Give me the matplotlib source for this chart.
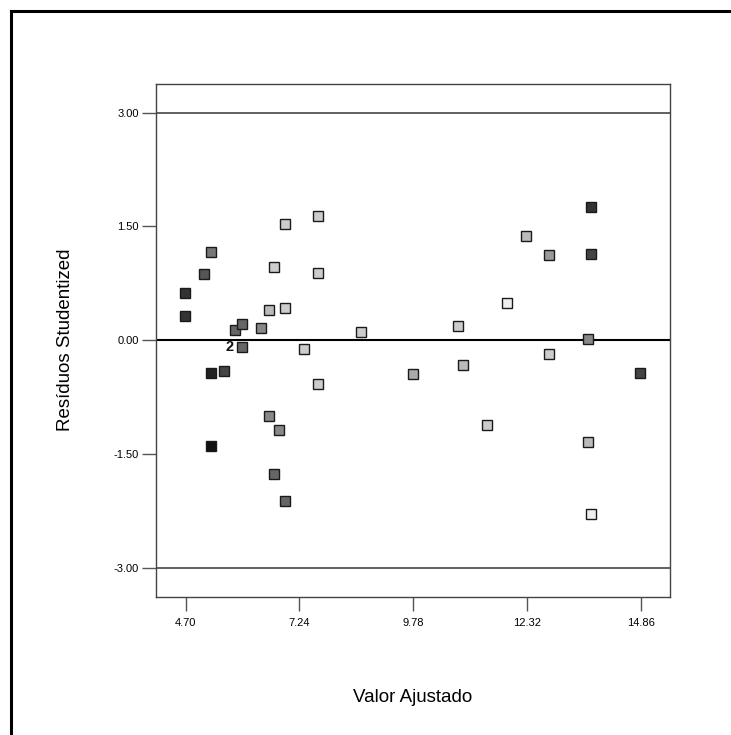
import matplotlib
matplotlib.use("Agg")
import matplotlib.pyplot as plt
from matplotlib.lines import Line2D

plt.rcParams['font.family'] = ['Liberation Sans', 'DejaVu Sans']

# Fitted values (x) and studentized residuals (y)
fitted = [4.685, 4.685, 5.10, 5.26, 5.81, 5.95, 5.95, 6.39, 6.56, 6.68,
          6.92, 6.92, 7.35, 7.65, 7.65, 8.62, 5.26, 5.55, 7.65, 6.56,
          6.78, 5.26, 6.68, 6.92, 13.76, 12.30, 12.81, 13.76, 11.88, 10.77,
          13.68, 12.81, 10.90, 9.78, 14.85, 11.42, 13.68, 13.76]
residuals = [0.627, 0.32, 0.874, 1.164, 0.13, 0.215, -0.088, 0.158, 0.395, 0.97,
             1.537, 0.426, -0.11, 1.634, 0.887, 0.113, -0.435, -0.40, -0.58, -0.99,
             -1.186, -1.393, -1.758, -2.118, 1.761, 1.371, 1.124, 1.137, 0.49, 0.193,
             0.017, -0.185, -0.326, -0.444, -0.427, -1.116, -1.336, -2.293]
shades = ['#333333', '#333333', '#555555', '#777777', '#666666', '#666666', '#666666', '#888888', '#bbbbbb', '#cccccc',
          '#cccccc', '#cccccc', '#cccccc', '#cccccc', '#cccccc', '#cccccc', '#222222', '#444444', '#cccccc', '#888888',
          '#888888', '#111111', '#666666', '#666666', '#333333', '#bbbbbb', '#999999', '#444444', '#eeeeee', '#cccccc',
          '#888888', '#cccccc', '#bbbbbb', '#aaaaaa', '#444444', '#cccccc', '#bbbbbb', '#eeeeee']
dup_label = "2"
dup_x, dup_y = 5.95, -0.088

xticks = [4.70, 7.24, 9.78, 12.32, 14.86]
yticks = [-3.00, -1.50, 0.00, 1.50, 3.00]
xlabel = "Valor Ajustado"
ylabel = "Resíduos Studentized"

W, H = 731, 735
fig = plt.figure(figsize=(W / 100, H / 100), dpi=100)
ax = fig.add_axes([156.3 / W, 1 - 597 / H, (670 - 156.3) / W, (597 - 83.7) / H])

ax.axhline(3.0, color='#555555', lw=1.3, zorder=1)
ax.axhline(-3.0, color='#555555', lw=1.3, zorder=1)
ax.axhline(0.0, color='black', lw=1.5, zorder=1)

for x, y, c in zip(fitted, residuals, shades):
    ax.plot(x, y, marker='s', ms=7.2, mfc=c, mec='#1a1a1a', mew=1.0, ls='none', zorder=3)

ax.text(dup_x - 0.17, dup_y, dup_label, ha='right', va='center', fontsize=10.5,
        fontweight='bold', color='#111111')

ax.set_xlim(4.044, 15.514)
ax.set_ylim(-3.38, 3.38)
ax.set_xticks(xticks)
ax.set_xticklabels([f"{v:.2f}" for v in xticks])
ax.set_yticks(yticks)
ax.set_yticklabels([f"{v:.2f}" for v in yticks])
ax.tick_params(axis='x', length=10, width=1, color='#555555', pad=5, labelsize=8)
ax.tick_params(axis='y', length=10, width=1, color='#555555', pad=2.7, labelsize=8)
for s in ax.spines.values():
    s.set_color('#444444')
    s.set_linewidth(1.0)

fig.text(413 / W, 1 - 697 / H, xlabel, ha='center', va='center', fontsize=13.5)
fig.text(66 / W, 1 - 340 / H, ylabel, ha='center', va='center', rotation=90, fontsize=13.5)

# outer frame (top and left edges)
fig.add_artist(Line2D([10.5 / W, 1], [1 - 10.5 / H, 1 - 10.5 / H], transform=fig.transFigure, color='black', lw=2.2))
fig.add_artist(Line2D([10.5 / W, 10.5 / W], [0, 1 - 10.5 / H], transform=fig.transFigure, color='black', lw=2.2))

fig.savefig("out.png", dpi=100, facecolor='white')
